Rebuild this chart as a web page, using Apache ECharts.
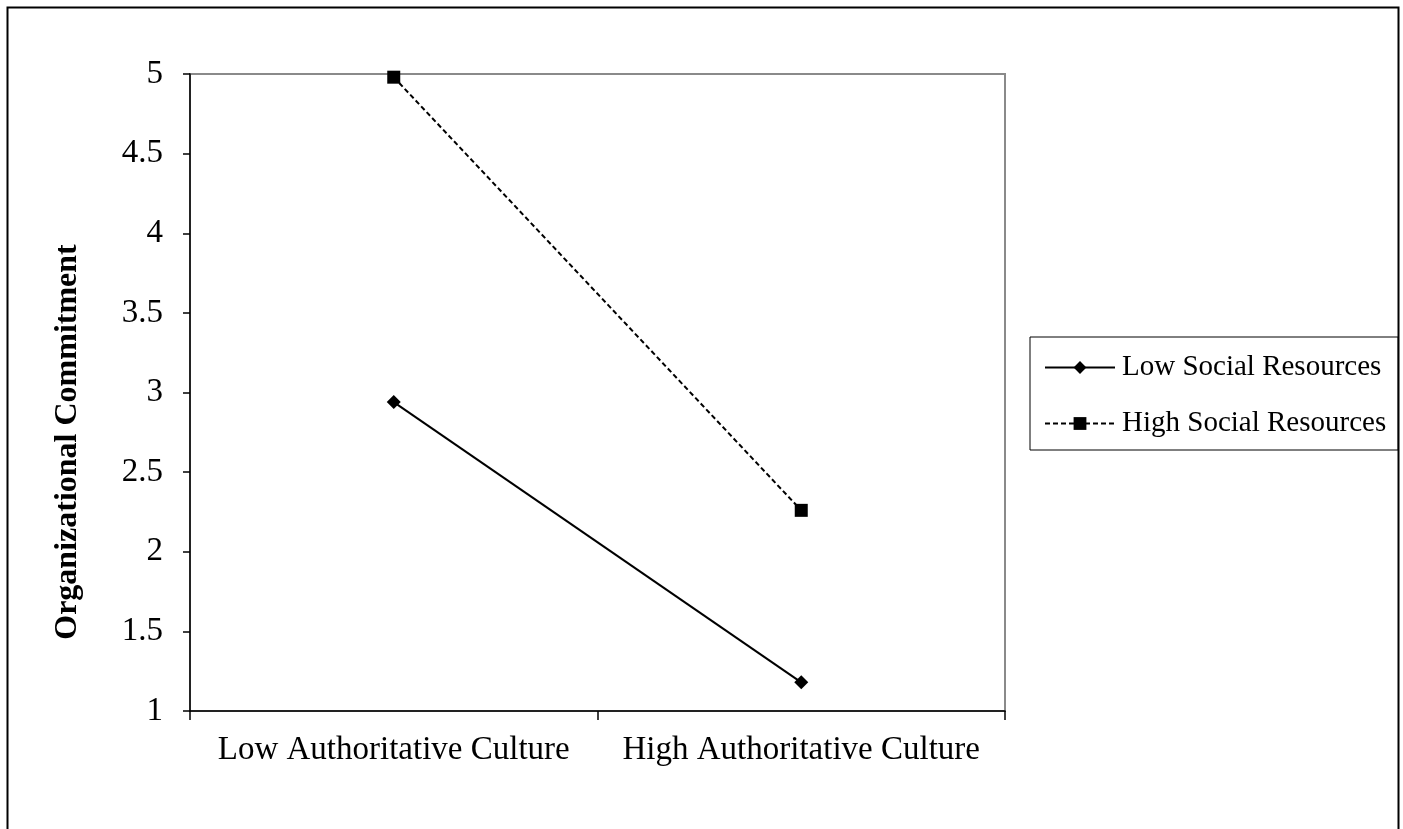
<!DOCTYPE html>
<html>
<head>
<meta charset="utf-8">
<script src="https://cdn.jsdelivr.net/npm/echarts@6/dist/echarts.min.js"></script>
<style>html,body{margin:0;padding:0;background:#fff}#c{width:1403px;height:829px}</style>
</head>
<body>
<div id="c"></div>
<script>
const categories = ['Low Authoritative Culture', 'High Authoritative Culture'];
const lowSocial = [2.94, 1.18];
const highSocial = [4.98, 2.26];
const seriesNames = ['Low Social Resources', 'High Social Resources'];
const yAxisName = 'Organizational Commitment';

const font = 'Liberation Serif, Times New Roman, serif';
const chart = echarts.init(document.getElementById('c'), null, {renderer: 'canvas'});
chart.setOption({
  animation: false,
  backgroundColor: '#fff',
  graphic: [{
    type: 'rect', silent: true, z: -1,
    shape: {x: 7.5, y: 7.5, width: 1391, height: 900},
    style: {fill: 'none', stroke: '#000', lineWidth: 2}
  }, {
    type: 'text', silent: true,
    x: 68, y: 442, rotation: Math.PI / 2,
    style: {text: yAxisName, fontFamily: font, fontSize: 32, fontWeight: 'bold', fill: '#000', align: 'center', verticalAlign: 'middle'}
  }],
  grid: {left: 190, top: 74, right: 398, bottom: 118, show: true, borderColor: '#8a8a8a', borderWidth: 2, backgroundColor: 'transparent'},
  legend: {
    orient: 'vertical', left: 1030, top: 337,
    padding: [16, 12, 12, 14],
    itemGap: 27,
    itemWidth: 70, itemHeight: 16,
    borderColor: '#000', borderWidth: 1,
    textStyle: {fontFamily: font, fontSize: 29, color: '#000', padding: [0, 0, 0, 2]},
    data: seriesNames
  },
  xAxis: {
    type: 'category', data: categories, boundaryGap: true,
    axisLine: {lineStyle: {color: '#000', width: 1.5}},
    axisTick: {show: true, length: 9, inside: false, interval: 0, lineStyle: {color: '#000', width: 1.5}},
    axisLabel: {fontFamily: font, fontSize: 33, color: '#000', margin: 23, interval: 0, hideOverlap: false},
    splitLine: {show: false}
  },
  yAxis: {
    type: 'value', min: 1, max: 5, interval: 0.5,
    axisLine: {show: true, lineStyle: {color: '#000', width: 1.5}},
    axisTick: {show: true, length: 7, lineStyle: {color: '#000', width: 1.5}},
    axisLabel: {fontFamily: font, fontSize: 33, color: '#000', margin: 27},
    splitLine: {show: false}
  },
  series: [
    {
      name: seriesNames[0], type: 'line', data: lowSocial,
      symbol: 'diamond', symbolSize: 14, showAllSymbol: true,
      lineStyle: {color: '#000', width: 2, type: 'solid'},
      itemStyle: {color: '#000'}
    },
    {
      name: seriesNames[1], type: 'line', data: highSocial,
      symbol: 'rect', symbolSize: 13, showAllSymbol: true,
      lineStyle: {color: '#000', width: 2, type: [5, 3]},
      itemStyle: {color: '#000'}
    }
  ]
});
</script>
</body>
</html>
